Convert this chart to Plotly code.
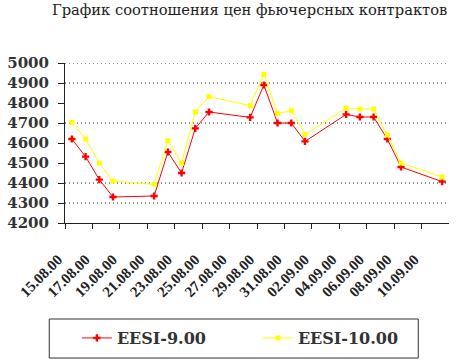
import plotly.graph_objects as go
from datetime import datetime, timedelta

dates = ["15.08.00", "16.08.00", "17.08.00", "18.08.00", "21.08.00", "22.08.00", "23.08.00",
         "24.08.00", "25.08.00", "28.08.00", "29.08.00", "30.08.00", "31.08.00", "01.09.00",
         "04.09.00", "05.09.00", "06.09.00", "07.09.00", "08.09.00", "11.09.00"]
eesi_9 = [4620, 4532, 4417, 4330, 4335, 4555, 4450, 4673, 4755, 4728,
          4890, 4700, 4700, 4608, 4743, 4730, 4730, 4620, 4480, 4407]
eesi_10 = [4703, 4620, 4500, 4410, 4393, 4612, 4500, 4755, 4832, 4787,
           4943, 4747, 4762, 4642, 4775, 4770, 4770, 4640, 4500, 4430]
tick_labels = ["15.08.00", "17.08.00", "19.08.00", "21.08.00", "23.08.00", "25.08.00", "27.08.00",
               "29.08.00", "31.08.00", "02.09.00", "04.09.00", "06.09.00", "08.09.00", "10.09.00"]
y_grid = [4300, 4400, 4700, 4900, 5000]

def d(s):
    return datetime.strptime(s, "%d.%m.%y")

xs = [d(s) for s in dates]
half = timedelta(hours=12)
tickvals = [d(s) - half for s in tick_labels]

SERIF = "Liberation Serif"

fig = go.Figure()
fig.add_trace(go.Scatter(x=xs, y=eesi_9, name="EESI-9.00", mode="lines+markers",
                         line=dict(color="#ff0000", width=1),
                         marker=dict(symbol="cross", size=6, color="#ff0000")))
fig.add_trace(go.Scatter(x=xs, y=eesi_10, name="EESI-10.00", mode="lines+markers",
                         line=dict(color="#ffff00", width=1),
                         marker=dict(symbol="square", size=5, color="#ffff00")))

for g in y_grid:
    fig.add_shape(type="line", xref="paper", x0=0, x1=1, yref="y", y0=g, y1=g,
                  line=dict(color="#222", width=1, dash="1px,3px"), layer="below")

# legend frame
fig.add_shape(type="rect", xref="paper", yref="paper",
              x0=-0.041, x1=0.920, y0=-0.6, y1=-0.844,
              line=dict(color="#333", width=1), fillcolor="rgba(0,0,0,0)")

fig.update_layout(
    width=456, height=363,
    margin=dict(l=61, r=7, t=63, b=140),
    paper_bgcolor="white", plot_bgcolor="white",
    font=dict(family=SERIF, color="#222"),
    title=dict(text="График соотношения цен фьючерсных контрактов",
               x=0.981, xanchor="right", xref="container",
               y=0.972, yanchor="middle", yref="container",
               font=dict(family="DejaVu Serif", size=14.7, color="#222")),
    showlegend=True,
    legend=dict(orientation="h", x=0.031, xanchor="left", y=-0.719, yanchor="middle",
                font=dict(family="DejaVu Serif", size=16, color="#333", weight="bold"),
                entrywidth=136, entrywidthmode="pixels",
                bgcolor="rgba(0,0,0,0)", borderwidth=0),
    xaxis=dict(type="date",
               range=[d("15.08.00") - half, d("12.09.00") - half],
               tickvals=tickvals, ticktext=tick_labels, tickangle=-45,
               ticks="outside", ticklen=5, tickcolor="#222",
               showline=True, linecolor="#222", linewidth=1,
               showgrid=False, zeroline=False,
               ticklabelstandoff=16, ticklabelshift=-7,
               tickfont=dict(family=SERIF, size=15, color="#222", weight=700)),
    yaxis=dict(range=[4200, 5000], dtick=100,
               ticks="outside", ticklen=6, tickcolor="#222",
               showline=True, linecolor="#222", linewidth=1,
               showgrid=False, zeroline=False, ticklabelstandoff=6,
               tickfont=dict(family="DejaVu Serif", size=15, color="#333", weight="bold")),
)

fig.write_html("out.html", config={"displayModeBar": False},
               post_script="document.body.style.margin='0';document.body.style.padding='0';")
